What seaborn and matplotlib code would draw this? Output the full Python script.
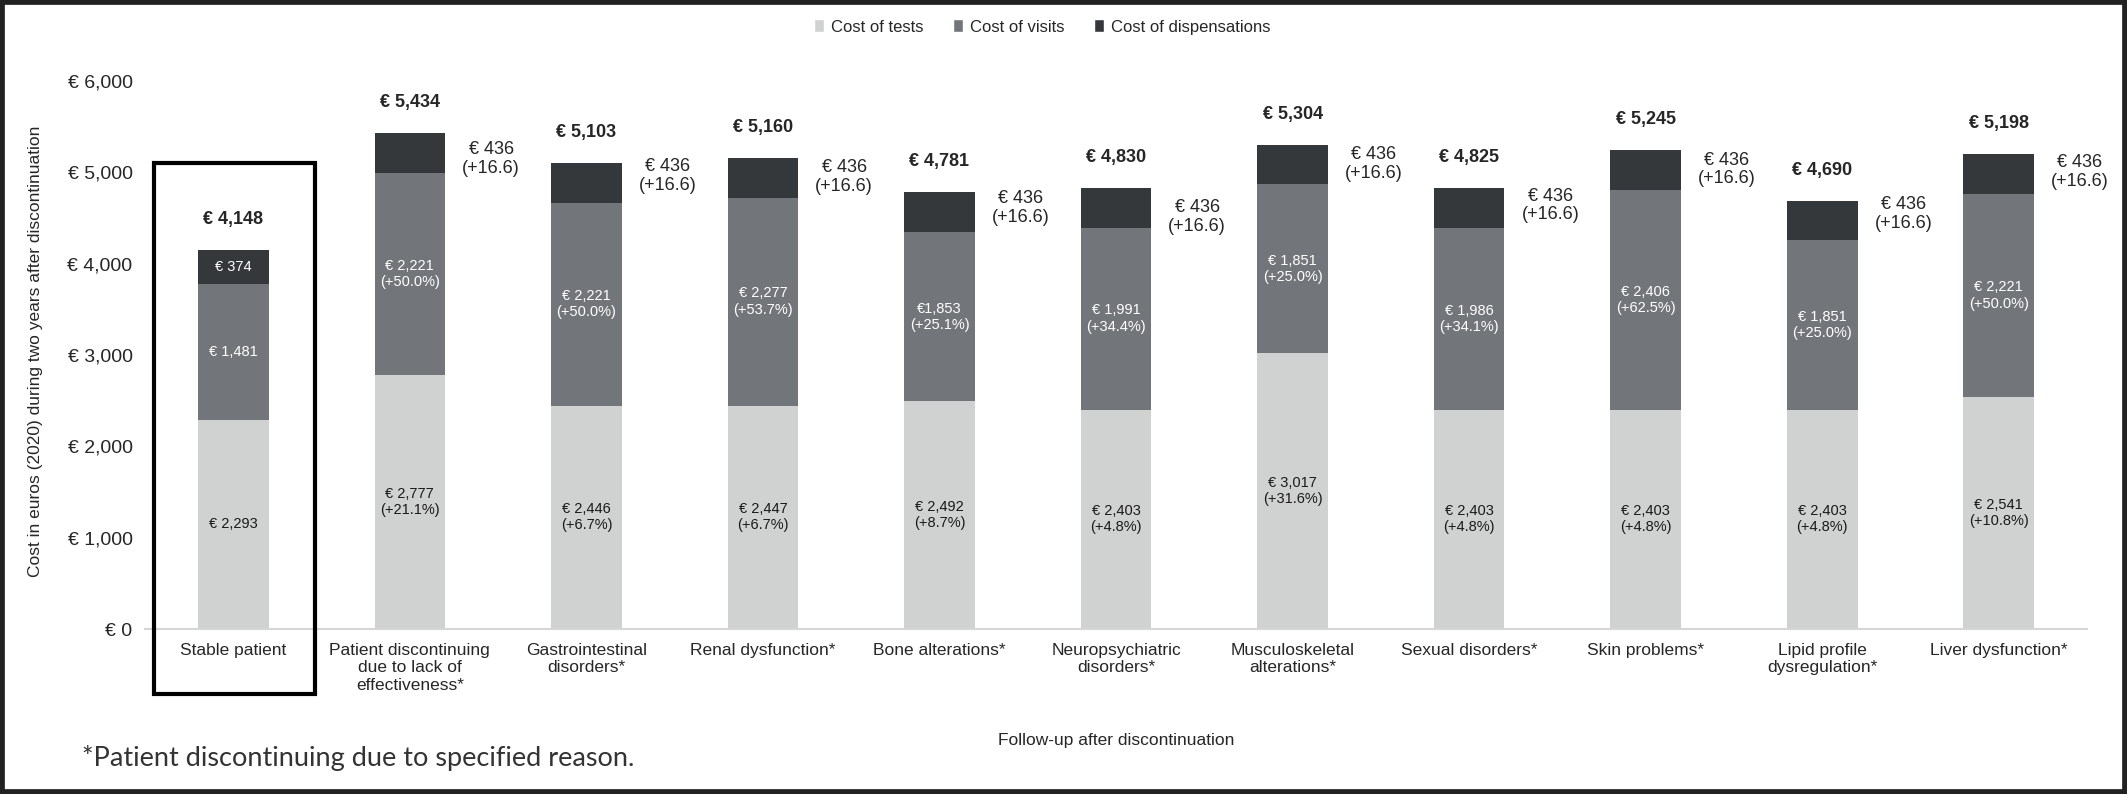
import matplotlib
matplotlib.use("Agg")
import matplotlib.pyplot as plt
import seaborn as sns
import pandas as pd
from matplotlib.patches import Patch, Rectangle
from matplotlib.ticker import FuncFormatter

# data (euros, 2020)
categories = [
    "Stable patient",
    "Patient discontinuing\ndue to lack of\neffectiveness*",
    "Gastrointestinal\ndisorders*",
    "Renal dysfunction*",
    "Bone alterations*",
    "Neuropsychiatric\ndisorders*",
    "Musculoskeletal\nalterations*",
    "Sexual disorders*",
    "Skin problems*",
    "Lipid profile\ndysregulation*",
    "Liver dysfunction*",
]
tests = [2293, 2777, 2446, 2447, 2492, 2403, 3017, 2403, 2403, 2403, 2541]
visits = [1481, 2221, 2221, 2277, 1853, 1991, 1851, 1986, 2406, 1851, 2221]
dispensations = [374, 436, 436, 436, 436, 436, 436, 436, 436, 436, 436]
totals = [4148, 5434, 5103, 5160, 4781, 4830, 5304, 4825, 5245, 4690, 5198]
tests_pct = [None, "+21.1%", "+6.7%", "+6.7%", "+8.7%", "+4.8%", "+31.6%", "+4.8%", "+4.8%", "+4.8%", "+10.8%"]
visits_pct = [None, "+50.0%", "+50.0%", "+53.7%", "+25.1%", "+34.4%", "+25.0%", "+34.1%", "+62.5%", "+25.0%", "+50.0%"]
disp_pct = [None, "+16.6", "+16.6", "+16.6", "+16.6", "+16.6", "+16.6", "+16.6", "+16.6", "+16.6", "+16.6"]

# label nudges (value units, relative to bar top) for the dispensation callouts
DISP_NUDGE = [0, -288, -143, -211, -171, -319, -213, -188, -214, -143, -194]

C_TESTS = "#d0d2d2"
C_VISITS = "#72767a"
C_DISP = "#35383b"

sns.set_style("white")
plt.rcParams["font.family"] = ["Liberation Sans", "DejaVu Sans"]

df = pd.DataFrame({"group": categories, "tests": tests, "visits": visits,
                   "disp": dispensations})
df["tv"] = df["tests"] + df["visits"]
df["total"] = df["tv"] + df["disp"]

fig, ax = plt.subplots(figsize=(21.27, 7.94), dpi=100)
fig.subplots_adjust(left=0.0682, right=0.9812, bottom=0.2078, top=0.898)

# stacked bars by layering cumulative sums
for col, color in [("total", C_DISP), ("tv", C_VISITS), ("tests", C_TESTS)]:
    sns.barplot(data=df, x="group", y=col, order=categories, color=color,
                width=0.4, linewidth=0, saturation=1, ax=ax)

ax.set_xlim(-0.5, 10.5)
ax.set_ylim(0, 6000)
ax.set_yticks(range(0, 6001, 1000))
ax.yaxis.set_major_formatter(FuncFormatter(lambda v, p: f"€ {v:,.0f}"))
ax.set_xlabel("")
ax.set_ylabel("")
ax.tick_params(axis="y", length=0, pad=9, labelsize=14)
ax.tick_params(axis="x", length=0, pad=10, labelsize=12.5)
for lab in ax.get_xticklabels():
    lab.set_linespacing(1.2)
for s in ["top", "right", "left"]:
    ax.spines[s].set_visible(False)
ax.spines["bottom"].set_color("#d6d6d6")
ax.spines["bottom"].set_linewidth(1.5)

for i in range(len(categories)):
    t, v, d, tot = tests[i], visits[i], dispensations[i], totals[i]
    # totals on top
    ax.annotate(f"€ {tot:,}", (i, tot), xytext=(0, 22), textcoords="offset points",
                ha="center", va="center", fontsize=13, fontweight="bold")
    # tests segment
    txt = f"€ {t:,}" if tests_pct[i] is None else f"€ {t:,}\n({tests_pct[i]})"
    ax.text(i, t / 2, txt, ha="center", va="center", fontsize=10.5, color="#1a1a1a")
    # visits segment
    vlab = f"€{v:,}" if i == 4 else f"€ {v:,}"
    txt = vlab if visits_pct[i] is None else f"{vlab}\n({visits_pct[i]})"
    ax.text(i, t + v / 2, txt, ha="center", va="center", fontsize=10.5, color="white")
    # dispensations
    if disp_pct[i] is None:
        ax.text(i, t + v + d / 2, f"€ {d}", ha="center", va="center",
                fontsize=10.5, color="white")
    else:
        ax.text(i + 0.46, tot + DISP_NUDGE[i], f"€ {d}\n({disp_pct[i]})",
                ha="center", va="center", fontsize=13, linespacing=1.15)

# highlight box around the reference (stable) patient
ax.add_patch(Rectangle((-0.45, -712), 0.915, 5102 + 712, fill=False,
                       edgecolor="black", linewidth=3, clip_on=False, zorder=5))

handles = [Patch(facecolor=C_TESTS, label="Cost of tests"),
           Patch(facecolor=C_VISITS, label="Cost of visits"),
           Patch(facecolor=C_DISP, label="Cost of dispensations")]
fig.legend(handles=handles, loc="center", bbox_to_anchor=(0.490, 0.966), ncol=3,
           frameon=False, fontsize=12, handlelength=0.6, handleheight=0.8,
           handletextpad=0.4, columnspacing=1.8)

fig.text(36 / 2127, 0.557, "Cost in euros (2020) during two years after discontinuation",
         rotation=90, ha="center", va="center", fontsize=12.5)
fig.text(1116 / 2127, 0.0668, "Follow-up after discontinuation",
         ha="center", va="center", fontsize=12.5)
fig.text(82 / 2127, 0.045, "*Patient discontinuing due to specified reason.",
         ha="left", va="center", fontsize=19.5, family=["Lato", "DejaVu Sans"],
         fontweight="normal", color="#333333")

# outer frame of the figure
fig.patches.append(Rectangle((0, 0), 1, 1, transform=fig.transFigure, fill=False,
                             edgecolor="#222222", linewidth=7))

fig.savefig("out.png", dpi=100)
